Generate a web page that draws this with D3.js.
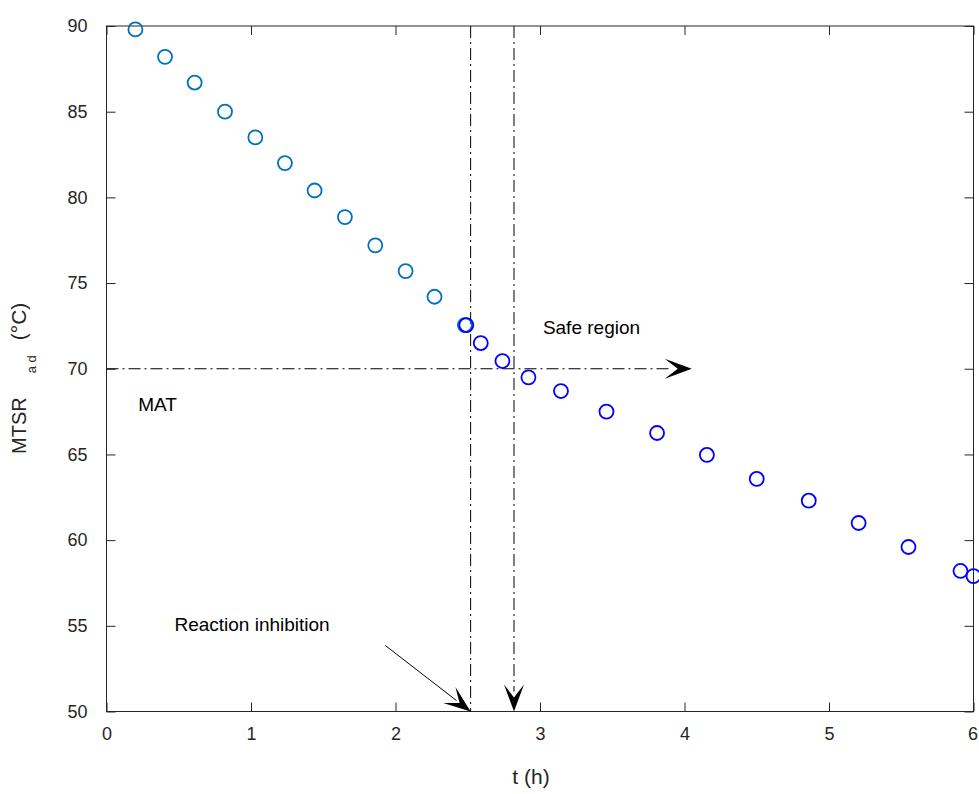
<!DOCTYPE html>
<html>
<head>
<meta charset="utf-8">
<script src="https://cdn.jsdelivr.net/npm/d3@7"></script>
<style>
  body { margin: 0; background: #fff; }
  svg { font-family: "Liberation Sans", Arial, sans-serif; }
</style>
</head>
<body>
<svg id="chart" width="979" height="794"></svg>
<script>
// values
var before_t = [0.2, 0.405, 0.61, 0.82, 1.03, 1.235, 1.44, 1.65, 1.86, 2.07, 2.27, 2.48];
var before_v = [89.8, 88.2, 86.7, 85.0, 83.5, 82.0, 80.4, 78.85, 77.2, 75.7, 74.2, 72.55];
var after_t = [2.49, 2.59, 2.74, 2.92, 3.145, 3.46, 3.81, 4.155, 4.5, 4.86, 5.205, 5.55, 5.91, 6.0];
var after_v = [72.55, 71.5, 70.45, 69.5, 68.7, 67.5, 66.25, 64.97, 63.57, 62.3, 61.0, 59.6, 58.2, 57.9];
var xTicks = [0, 1, 2, 3, 4, 5, 6];
var yTicks = [50, 55, 60, 65, 70, 75, 80, 85, 90];

var matLevel = 70;
var inhibitionT = 2.52;
var safeT = 2.82;
var matArrowEnd = 4.05;
var inhibitionArrow = [[1.93, 53.85], [2.52, 50]];

var svg = d3.select("#chart");
var g = svg.append("g");

var x = d3.scaleLinear().domain([0, 6]).range([106.5, 973.5]);
var y = d3.scaleLinear().domain([50, 90]).range([711.5, 26]);

var axisColor = "#262626";
var tickLen = 9;

// box
g.append("rect")
  .attr("x", x(0)).attr("y", y(90))
  .attr("width", x(6) - x(0)).attr("height", y(50) - y(90))
  .attr("fill", "none").attr("stroke", axisColor).attr("stroke-width", 1);

function styleAxis(sel) {
  sel.select(".domain").remove();
  sel.selectAll("line").attr("stroke", axisColor);
  sel.selectAll("text").attr("fill", axisColor).style("font-size", "18px")
     .style("font-family", "'Liberation Sans', Arial, sans-serif");
}

g.append("g")
  .attr("transform", "translate(0," + y(50) + ")")
  .call(d3.axisBottom(x).tickValues(xTicks).tickFormat(d3.format("d")).tickSize(-tickLen).tickPadding(16))
  .call(styleAxis);
g.append("g")
  .attr("transform", "translate(0," + y(90) + ")")
  .call(d3.axisTop(x).tickValues(xTicks).tickSize(-tickLen).tickFormat(""))
  .call(styleAxis);
g.append("g")
  .attr("transform", "translate(" + x(0) + ",0)")
  .call(d3.axisLeft(y).tickValues(yTicks).tickSize(-tickLen).tickPadding(19))
  .call(styleAxis);
g.append("g")
  .attr("transform", "translate(" + x(6) + ",0)")
  .call(d3.axisRight(y).tickValues(yTicks).tickSize(-tickLen).tickFormat(""))
  .call(styleAxis);

// last x tick label sits flush with the right edge
g.selectAll("text").filter(function() { return this.textContent === "6"; })
  .attr("text-anchor", "end").attr("dx", 4);

// axis labels
g.append("text")
  .attr("x", 531).attr("y", 784)
  .attr("text-anchor", "middle")
  .attr("fill", axisColor)
  .style("font-size", "21px")
  .text("t (h)");

var ylab = g.append("text")
  .attr("transform", "translate(26,454) rotate(-90)")
  .attr("fill", axisColor)
  .style("font-size", "20px");
ylab.append("tspan").text("MTSR");
ylab.append("tspan").attr("dx", 24).attr("dy", 10).style("font-size", "13px").text("a d");
ylab.append("tspan").attr("dx", 15).attr("dy", -10).style("font-size", "21px").text("(\u00B0C)");

// reference lines
var dashDot = "12,4,2,4";
g.append("line")
  .attr("x1", x(0)).attr("x2", x(matArrowEnd) - 20)
  .attr("y1", y(matLevel)).attr("y2", y(matLevel))
  .attr("stroke", "#000").attr("stroke-dasharray", dashDot);
g.append("line")
  .attr("x1", x(inhibitionT)).attr("x2", x(inhibitionT))
  .attr("y1", y(90)).attr("y2", y(50))
  .attr("stroke", "#000").attr("stroke-dasharray", dashDot);
g.append("line")
  .attr("x1", x(safeT)).attr("x2", x(safeT))
  .attr("y1", y(90)).attr("y2", y(50) - 20)
  .attr("stroke", "#000").attr("stroke-dasharray", dashDot);

var ip0 = [x(inhibitionArrow[0][0]), y(inhibitionArrow[0][1])];
var ip1 = [x(inhibitionArrow[1][0]), y(inhibitionArrow[1][1])];
var ang = Math.atan2(ip1[1] - ip0[1], ip1[0] - ip0[0]);
g.append("line")
  .attr("x1", ip0[0]).attr("y1", ip0[1])
  .attr("x2", ip1[0] - 18 * Math.cos(ang)).attr("y2", ip1[1] - 18 * Math.sin(ang))
  .attr("stroke", "#000").attr("stroke-width", 1);

// notched arrow head, tip at (tx,ty), pointing along angle a
function arrowHead(tx, ty, a) {
  var L = 27, W = 10, N = 14;
  var pts = [[0, 0], [-L, -W], [-N, 0], [-L, W]].map(function(p) {
    return [tx + p[0] * Math.cos(a) - p[1] * Math.sin(a),
            ty + p[0] * Math.sin(a) + p[1] * Math.cos(a)];
  });
  g.append("path")
    .attr("d", "M" + pts.join("L") + "Z")
    .attr("fill", "#000");
}
arrowHead(x(matArrowEnd), y(matLevel), 0);
arrowHead(x(safeT), y(50), Math.PI / 2);
arrowHead(ip1[0], ip1[1], ang);

// markers
function drawSeries(ts, vs, color) {
  g.append("g").selectAll("circle")
    .data(ts.map(function(t, i) { return {t: t, v: vs[i]}; }))
    .enter().append("circle")
    .attr("cx", function(d) { return x(d.t); })
    .attr("cy", function(d) { return y(d.v); })
    .attr("r", 7)
    .attr("fill", "none")
    .attr("stroke", color)
    .attr("stroke-width", 1.8);
}
drawSeries(before_t, before_v, "#0072BD");
drawSeries(after_t, after_v, "#0000FF");

// annotations
function note(t, v, s) {
  g.append("text")
    .attr("x", x(t)).attr("y", y(v))
    .attr("fill", "#000")
    .style("font-size", "19px")
    .text(s);
}
note(3.02, 72.03, "Safe region");
note(0.22, 67.55, "MAT");
note(0.47, 54.7, "Reaction inhibition");
</script>
</body>
</html>
